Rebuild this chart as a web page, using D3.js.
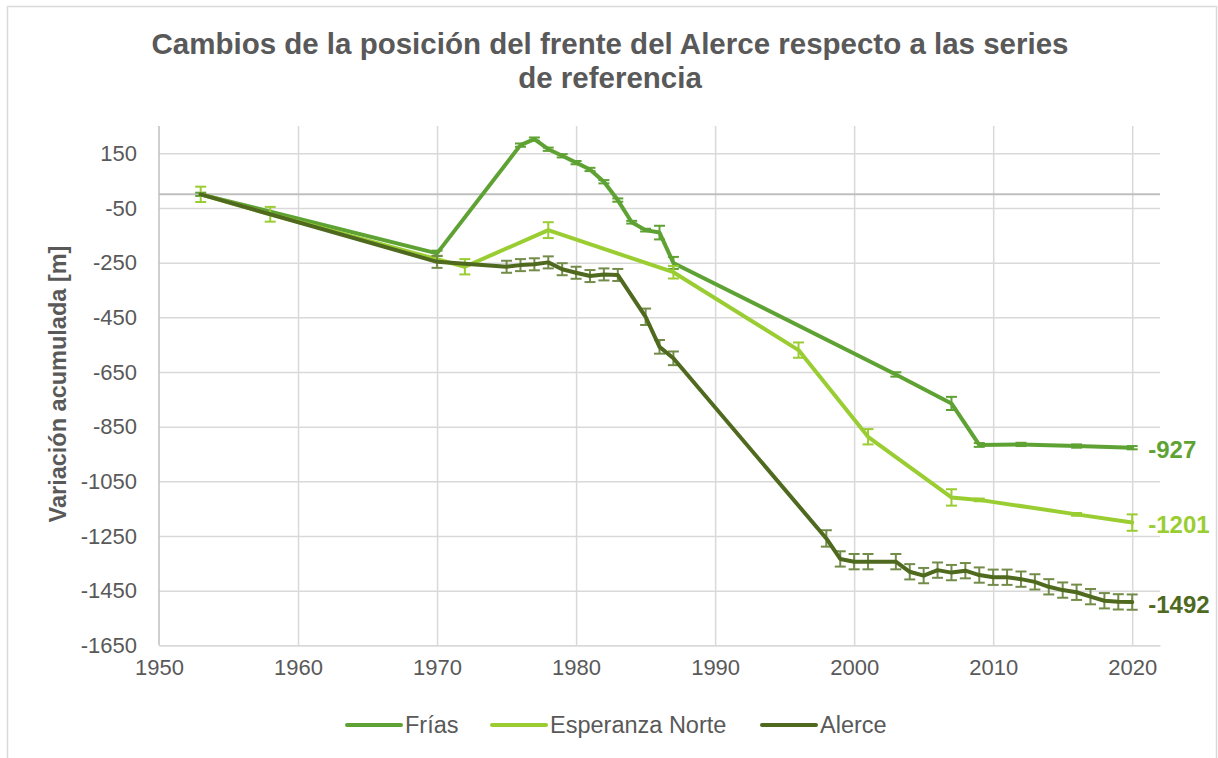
<!DOCTYPE html>
<html>
<head>
<meta charset="utf-8">
<script src="https://cdn.jsdelivr.net/npm/d3@7"></script>
<style>
  body { margin: 0; background: #fff; }
  text { font-family: "Liberation Sans", Arial, sans-serif; }
</style>
</head>
<body>
<div id="chart"></div>
<script>
// series data
var friasYears  = [1953, 1970, 1976, 1977, 1978, 1979, 1980, 1981, 1982, 1983, 1984, 1985, 1986, 1987, 2003, 2007, 2009, 2012, 2016, 2020];
var friasValues = [0, -216, 180, 202, 165, 141, 116, 91, 46, -21, -102, -131, -140, -251, -659, -765, -917, -915, -921, -927];
var friasErrors = [6, 10, 6, 6, 6, 6, 6, 6, 6, 6, 5, 5, 25, 22, 8, 24, 7, 6, 6, 6];

var espYears  = [1953, 1958, 1972, 1978, 1987, 1996, 2001, 2007, 2009, 2016, 2020];
var espValues = [0, -73, -265, -131, -285, -570, -887, -1109, -1118, -1171, -1201];
var espErrors = [28, 27, 28, 29, 23, 28, 28, 30, 5, 5, 30];

var alerceYears  = [1953, 1970, 1975, 1976, 1977, 1978, 1979, 1980, 1981, 1982, 1983, 1985, 1986, 1987, 1998, 1999, 2000, 2001, 2003, 2004, 2005, 2006, 2007, 2008, 2009, 2010, 2011, 2012, 2013, 2014, 2015, 2016, 2017, 2018, 2019, 2020];
var alerceValues = [0, -247, -265, -259, -256, -249, -274, -287, -299, -293, -295, -448, -558, -600, -1259, -1334, -1344, -1344, -1344, -1381, -1395, -1375, -1384, -1377, -1393, -1401, -1401, -1408, -1418, -1436, -1448, -1456, -1472, -1487, -1491, -1492];
var alerceErrors = [0, 22, 22, 22, 22, 22, 22, 22, 22, 22, 22, 30, 25, 25, 30, 28, 28, 28, 28, 28, 28, 28, 28, 28, 28, 28, 28, 28, 28, 28, 28, 28, 28, 28, 28, 28];

var seriesNames = ["Frías", "Esperanza Norte", "Alerce"];
var xTickValues = [1950, 1960, 1970, 1980, 1990, 2000, 2010, 2020];
var yTickValues = [150, -50, -250, -450, -650, -850, -1050, -1250, -1450, -1650];

(function() {
  var width = 1218,
      height = 758;

  var colors = ["#5fa234", "#9acd32", "#4f6a1e"];
  var errColors = ["#5fa234", "#9acd32", "#738c4a"];

  var series = [
    { name: seriesNames[0], years: friasYears, values: friasValues, errors: friasErrors },
    { name: seriesNames[1], years: espYears, values: espValues, errors: espErrors },
    { name: seriesNames[2], years: alerceYears, values: alerceValues, errors: alerceErrors }
  ];
  series.forEach(function(s, i) {
    s.color = colors[i];
    s.errColor = errColors[i];
    s.points = s.years.map(function(y, j) {
      return { year: y, value: s.values[j], err: s.errors[j] };
    });
  });

  var svg = d3.select("#chart")
    .append("svg")
    .attr("width", width)
    .attr("height", height);

  // outer frame
  svg.append("rect")
    .attr("x", 7.5).attr("y", 6.5)
    .attr("width", 1209).attr("height", 760)
    .attr("fill", "white")
    .attr("stroke", "#d9d9d9")
    .attr("stroke-width", 1.5);

  var x = d3.scaleLinear().domain([1950, 2022]).range([159, 1160]);
  var y = d3.scaleLinear().domain([-1650, 250]).range([645.3, 126]);

  var plain = function(d) { return String(d); }; // keeps the hyphen minus, no thousands comma

  // gridlines
  svg.append("g")
    .attr("class", "ygrid")
    .attr("transform", "translate(159,0)")
    .call(d3.axisLeft(y).tickValues(yTickValues).tickSize(-(1160 - 159)).tickFormat(""))
    .call(function(g) {
      g.select(".domain").remove();
      g.selectAll("line").attr("stroke", "#d9d9d9").attr("stroke-width", 1.5);
    });

  svg.append("g")
    .attr("class", "xgrid")
    .attr("transform", "translate(0,645.3)")
    .call(d3.axisBottom(x).tickValues(xTickValues.slice(1)).tickSize(-(645.3 - 126)).tickFormat(""))
    .call(function(g) {
      g.select(".domain").remove();
      g.selectAll("line").attr("stroke", "#d9d9d9").attr("stroke-width", 1.5);
    });

  // zero line
  svg.append("line")
    .attr("x1", 159).attr("x2", 1160)
    .attr("y1", y(0)).attr("y2", y(0))
    .attr("stroke", "#bfbfbf")
    .attr("stroke-width", 2);

  // left axis line
  svg.append("line")
    .attr("x1", 159).attr("x2", 159)
    .attr("y1", 126).attr("y2", 645.3)
    .attr("stroke", "#bfbfbf")
    .attr("stroke-width", 1.5);

  // y axis labels
  svg.append("g")
    .attr("transform", "translate(159,0)")
    .call(d3.axisLeft(y).tickValues(yTickValues).tickSize(0).tickPadding(22).tickFormat(plain))
    .call(function(g) {
      g.select(".domain").remove();
      g.selectAll("text")
        .attr("fill", "#595959")
        .style("font-size", "22px")
        .style("font-family", "'Liberation Sans', Arial, sans-serif");
    });

  // x axis labels
  svg.append("g")
    .attr("transform", "translate(0,645.3)")
    .call(d3.axisBottom(x).tickValues(xTickValues).tickSize(0).tickPadding(14).tickFormat(plain))
    .call(function(g) {
      g.select(".domain").attr("stroke", "#d9d9d9").attr("stroke-width", 1.5);
      g.selectAll("text")
        .attr("fill", "#595959")
        .style("font-size", "22px")
        .style("font-family", "'Liberation Sans', Arial, sans-serif");
    });

  var line = d3.line()
    .x(function(d) { return x(d.year); })
    .y(function(d) { return y(d.value); });

  var cap = 5.5;

  series.forEach(function(s) {
    var g = svg.append("g").attr("class", "series");
    var bars = g.selectAll(".err")
      .data(s.points.filter(function(d) { return d.err > 0; }))
      .enter().append("g")
      .attr("class", "err")
      .attr("stroke", s.errColor)
      .attr("stroke-width", 2);
    bars.append("line")
      .attr("x1", function(d) { return x(d.year); })
      .attr("x2", function(d) { return x(d.year); })
      .attr("y1", function(d) { return y(d.value + d.err); })
      .attr("y2", function(d) { return y(d.value - d.err); });
    bars.append("line")
      .attr("x1", function(d) { return x(d.year) - cap; })
      .attr("x2", function(d) { return x(d.year) + cap; })
      .attr("y1", function(d) { return y(d.value + d.err); })
      .attr("y2", function(d) { return y(d.value + d.err); });
    bars.append("line")
      .attr("x1", function(d) { return x(d.year) - cap; })
      .attr("x2", function(d) { return x(d.year) + cap; })
      .attr("y1", function(d) { return y(d.value - d.err); })
      .attr("y2", function(d) { return y(d.value - d.err); });

    g.append("path")
      .datum(s.points)
      .attr("d", line)
      .attr("fill", "none")
      .attr("stroke", s.color)
      .attr("stroke-width", 4)
      .attr("stroke-linejoin", "round")
      .attr("stroke-linecap", "round");

    // label on the last point
    var last = s.points[s.points.length - 1];
    g.append("text")
      .attr("x", x(last.year) + 16)
      .attr("y", y(last.value) + 2)
      .attr("dy", "0.36em")
      .attr("fill", s.color)
      .style("font-size", "24px")
      .style("font-weight", "bold")
      .text(last.value);
  });

  // title
  var title = svg.append("text")
    .attr("text-anchor", "middle")
    .attr("fill", "#595959")
    .style("font-size", "29.5px")
    .style("font-weight", "bold");
  title.append("tspan").attr("x", 610).attr("y", 54)
    .text("Cambios de la posición del frente del Alerce respecto a las series");
  title.append("tspan").attr("x", 610).attr("y", 88)
    .text("de referencia");

  // y axis title
  svg.append("text")
    .attr("transform", "translate(66,384) rotate(-90)")
    .attr("text-anchor", "middle")
    .attr("fill", "#595959")
    .style("font-size", "23.5px")
    .style("font-weight", "bold")
    .text("Variación acumulada [m]");

  // legend
  var legendX = [347, 492, 762];
  var legend = svg.selectAll(".legend")
    .data(series)
    .enter().append("g")
    .attr("class", "legend")
    .attr("transform", function(d, i) { return "translate(" + legendX[i] + ",725)"; });
  legend.append("line")
    .attr("x1", 0).attr("x2", 54)
    .attr("stroke", function(d) { return d.color; })
    .attr("stroke-width", 4)
    .attr("stroke-linecap", "round");
  legend.append("text")
    .attr("x", 58)
    .attr("dy", "0.36em")
    .attr("fill", "#595959")
    .style("font-size", "23.5px")
    .text(function(d) { return d.name; });
})();
</script>
</body>
</html>
